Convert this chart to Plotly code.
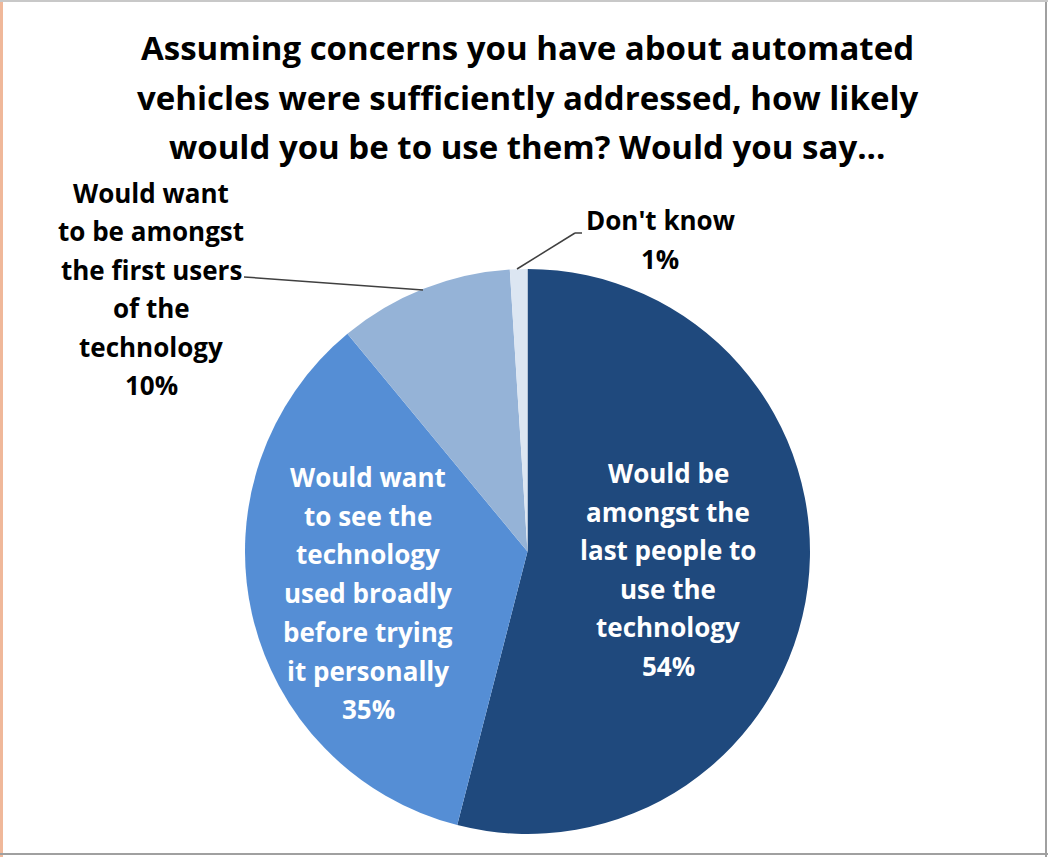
import plotly.graph_objects as go

W, H = 1048, 857

title_lines = [
    "Assuming concerns you have about automated",
    "vehicles were sufficiently addressed, how likely",
    "would you be to use them? Would you say...",
]
categories = [
    "Would be amongst the last people to use the technology",
    "Would want to see the technology used broadly before trying it personally",
    "Would want to be amongst the first users of the technology",
    "Don't know",
]
values = [54, 35, 10, 1]
colors = ["#1F497D", "#558ED5", "#95B3D7", "#DCE6F2"]
label_lines = [
    ["Would be", "amongst the", "last people to", "use the", "technology"],
    ["Would want", "to see the", "technology", "used broadly", "before trying", "it personally"],
    ["Would want", "to be amongst", "the first users", "of the", "technology"],
    ["Don't know"],
]

FONT = "Open Sans"

def px(x, y):
    return x / W, 1 - y / H

fig = go.Figure(go.Pie(
    labels=categories, values=values, sort=False, direction="clockwise",
    rotation=0, marker=dict(colors=colors, line=dict(width=0)),
    textinfo="none", hoverinfo="label+percent", showlegend=False,
    domain=dict(x=[245 / W, 810 / W], y=[22 / H, 589 / H]),
))

annotations = []
# title
for i, t in enumerate(title_lines):
    x, y = px(527, 48 + i * 49.5)
    annotations.append(dict(text="<b>%s</b>" % t, x=x, y=y, xref="paper", yref="paper",
                            showarrow=False, font=dict(family=FONT, size=33, color="black"),
                            xanchor="center", yanchor="middle"))

# label placements (centre x, first line y, spacing, colour)
placements = [
    (668, 473, 38.5, "white"),
    (368, 477, 38.7, "white"),
    (151, 193, 38.4, "black"),
    (660, 220, 39, "black"),
]
for lines, v, (cx, cy, sp, col) in zip(label_lines, values, placements):
    all_lines = lines + ["%d%%" % v]
    for j, t in enumerate(all_lines):
        x, y = px(cx, cy + j * sp)
        annotations.append(dict(text="<b>%s</b>" % t, x=x, y=y, xref="paper", yref="paper",
                                showarrow=False, font=dict(family=FONT, size=26, color=col),
                                xanchor="center", yanchor="middle"))

shapes = []
def seg(x0, y0, x1, y1, color="#404040", w=1.5):
    a, b = px(x0, y0)
    c, d = px(x1, y1)
    shapes.append(dict(type="line", xref="paper", yref="paper", x0=a, y0=b, x1=c, y1=d,
                       line=dict(color=color, width=w)))

# leader lines
seg(244, 277, 423, 290)
seg(517, 269, 575, 233)
seg(575, 233, 582, 233)
# frame
seg(1, 0, 1, H, color="#F0B89A", w=4)
seg(W - 2, 0, W - 2, H, color="#A0A0A0", w=2)
seg(0, H - 3, W, H - 3, color="#A0A0A0", w=2)
seg(0, 1, W, 1, color="#C8C8C8", w=2)

fig.update_layout(
    width=W, height=H, margin=dict(l=0, r=0, t=0, b=0),
    paper_bgcolor="white", plot_bgcolor="white",
    annotations=annotations, shapes=shapes,
)
fig.write_html("out.html")
